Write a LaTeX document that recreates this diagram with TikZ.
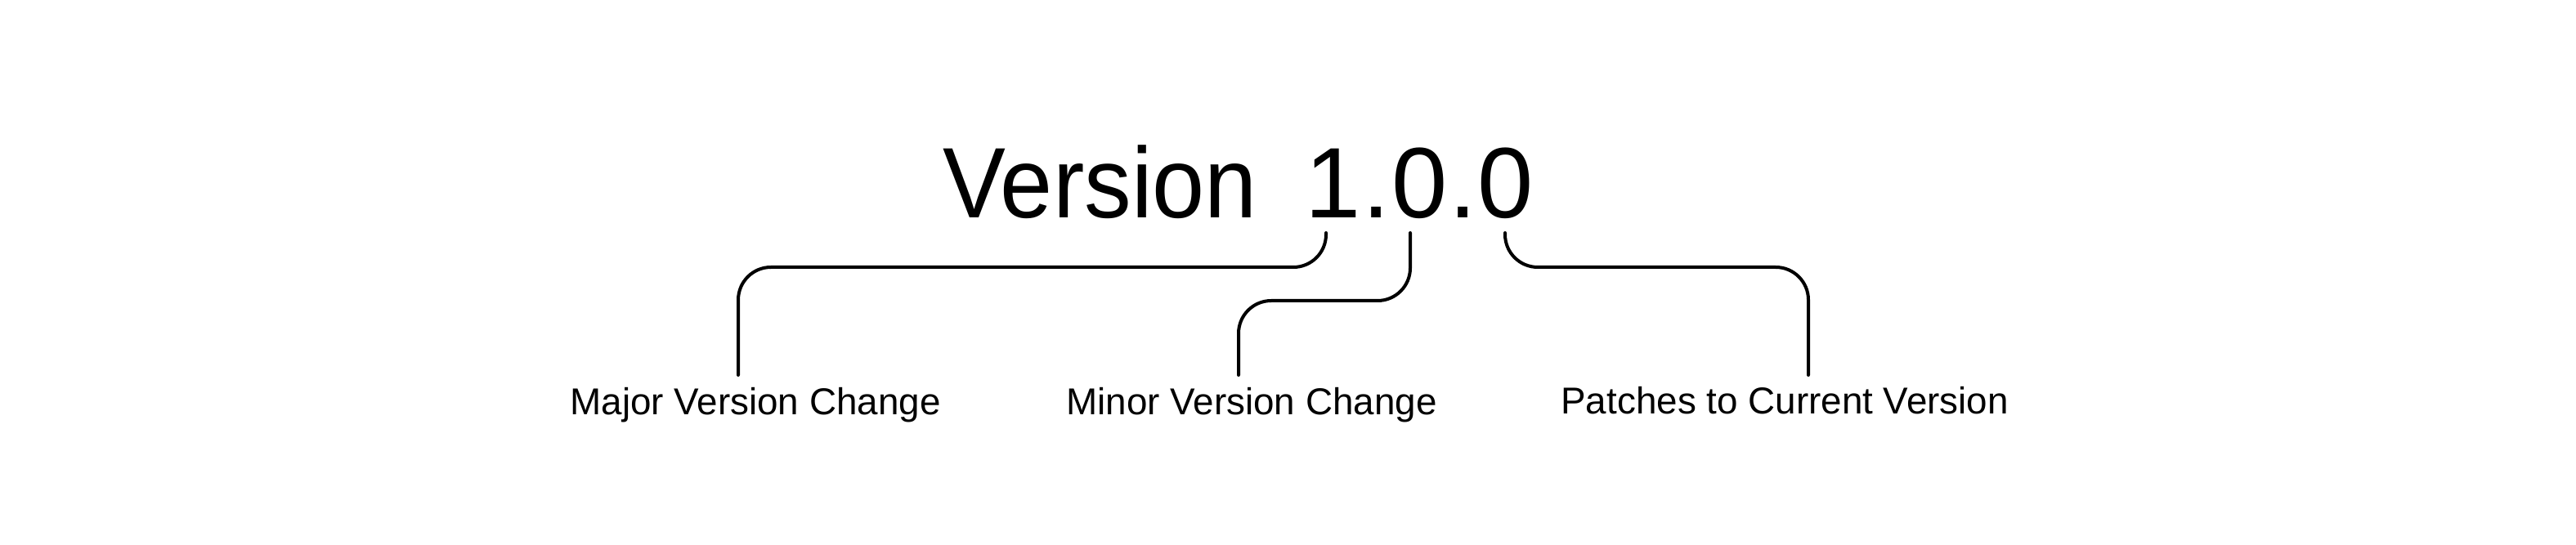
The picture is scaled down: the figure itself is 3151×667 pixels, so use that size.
\documentclass[tikz,border=0pt]{standalone}
\usepackage{graphicx}
\usepackage{fontspec}
\setmainfont{Liberation Sans}
\begin{document}
\begin{tikzpicture}[x=0.5pt,y=-0.5pt,
  titletext/.style={inner sep=0pt,anchor=base west,font=\fontsize{61.3pt}{70pt}\selectfont},
  labeltext/.style={inner sep=0pt,anchor=base west,font=\fontsize{22.9pt}{27pt}\selectfont},
  bracket/.style={line width=2pt,line cap=round,line join=round,rounded corners=20pt}]
\fill[white] (0,0) rectangle (3151,667);
\useasboundingbox (0,0) rectangle (3151,667);
% title
\node[titletext] (title) at (1153,267) {\scalebox{0.94}[1]{Version}\hspace{29.5pt}1\kern0.8pt.\kern0.8pt0\kern0.8pt.\kern0.8pt0};
% labels
\node[labeltext] (major) at (697,508) {Major Version Change};
\node[labeltext] (minor) at (1304,508) {Minor Version Change};
\node[labeltext] (patch) at (1909,507) {Patches to Current Version};
% connector ends
\coordinate (d1) at (1622,285);
\coordinate (d2) at (1725,285);
\coordinate (d3) at (1841,285);
\coordinate (e1) at (903,459);
\coordinate (e2) at (1515,459);
\coordinate (e3) at (2212,459);
% connectors
\draw[bracket] (d1) -- (d1 |- 0,327) -- (e1 |- 0,327) -- (e1);
\draw[bracket] (d2) -- (d2 |- 0,368) -- (e2 |- 0,368) -- (e2);
\draw[bracket] (d3) -- (d3 |- 0,327) -- (e3 |- 0,327) -- (e3);
\end{tikzpicture}
\end{document}
